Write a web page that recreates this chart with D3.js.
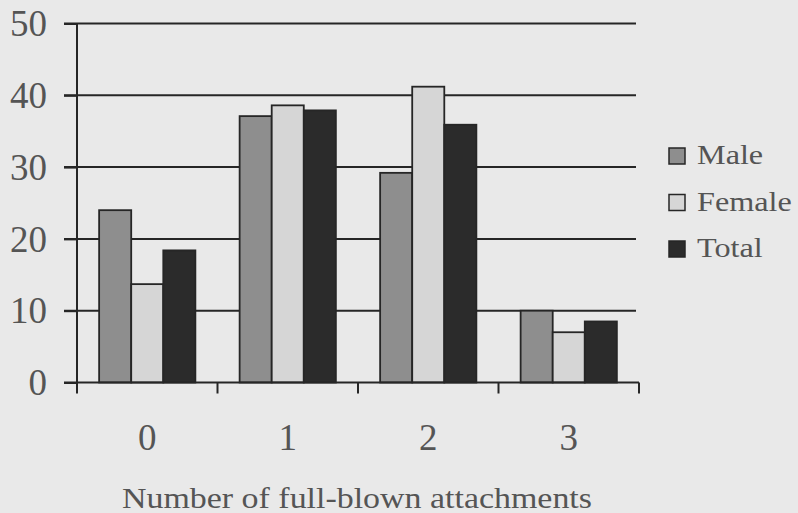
<!DOCTYPE html>
<html><head><meta charset="utf-8">
<script src="https://cdn.jsdelivr.net/npm/d3@7"></script>
<style>html,body{margin:0;padding:0;background:#e9e9e9;}svg{display:block;}</style>
</head><body>
<script>
const categories = ["0", "1", "2", "3"];
const seriesNames = ["Male", "Female", "Total"];
const male = [24, 37.1, 29.2, 10];
const female = [13.7, 38.6, 41.2, 7];
const total = [18.4, 37.9, 35.9, 8.5];
const yTicks = [0, 10, 20, 30, 40, 50];
const xTitle = "Number of full-blown attachments";
const colors = ["#8e8e8e", "#d6d6d6", "#2b2b2b"];

const W = 798, H = 513;
const svg = d3.select("body").append("svg").attr("width", W).attr("height", H);
svg.append("rect").attr("width", W).attr("height", H).attr("fill", "#e9e9e9");
const font = "'Liberation Serif', serif";
const ink = "#262626", txt = "#555";

const x0 = d3.scaleBand().domain(categories).range([77, 639]).paddingInner(0).paddingOuter(0);
const x1 = d3.scaleBand().domain(seriesNames).range([0, x0.bandwidth()]).paddingOuter(0.69).paddingInner(0);
const y = d3.scaleLinear().domain([0, 50]).range([382.5, 23.5]);

// gridlines
svg.append("g").selectAll("line").data(yTicks.filter(d => d > 0)).join("line")
  .attr("x1", 64).attr("x2", 636).attr("y1", d => y(d)).attr("y2", d => y(d))
  .attr("stroke", ink).attr("stroke-width", 2);

// bars
const data = categories.map((c, i) => ({c, vals: [male[i], female[i], total[i]]}));
const g = svg.append("g").selectAll("g").data(data).join("g")
  .attr("transform", d => `translate(${x0(d.c)},0)`);
g.selectAll("rect").data(d => d.vals.map((v, j) => ({k: seriesNames[j], v, j}))).join("rect")
  .attr("x", d => x1(d.k)).attr("width", x1.bandwidth())
  .attr("y", d => y(d.v)).attr("height", d => y(0) - y(d.v))
  .attr("fill", d => colors[d.j]).attr("stroke", ink).attr("stroke-width", 1.8);

// y axis
const yAx = svg.append("g").attr("transform", "translate(77,0)")
  .call(d3.axisLeft(y).tickValues(yTicks).tickSize(13).tickPadding(17));
yAx.select(".domain").remove();
yAx.append("line").attr("x1", 0).attr("x2", 0).attr("y1", y(50)).attr("y2", y(0) + 8).attr("stroke", ink).attr("stroke-width", 2);
yAx.selectAll(".tick line").attr("stroke", ink).attr("stroke-width", 2);
yAx.selectAll("text").attr("font-family", font).attr("font-size", 37).attr("fill", txt).attr("dy", "0.33em");

// x axis
const xAx = svg.append("g").attr("transform", `translate(0,${y(0)})`);
xAx.append("line").attr("x1", 64).attr("x2", 639).attr("y1", 0).attr("y2", 0).attr("stroke", ink).attr("stroke-width", 2);
const bounds = categories.map(c => x0(c)).concat([x0(categories[3]) + x0.bandwidth()]);
xAx.selectAll("line.tk").data(bounds).join("line").attr("class", "tk")
  .attr("x1", d => d).attr("x2", d => d).attr("y1", 0).attr("y2", 11)
  .attr("stroke", ink).attr("stroke-width", 2);
xAx.selectAll("text").data(categories).join("text")
  .attr("x", d => x0(d) + x0.bandwidth() / 2).attr("y", 450 - y(0))
  .attr("text-anchor", "middle").attr("font-family", font).attr("font-size", 37).attr("fill", txt).text(d => d);

svg.append("text").attr("x", 357).attr("y", 508).attr("text-anchor", "middle")
  .attr("font-family", font).attr("font-size", 30).attr("fill", txt)
  .attr("textLength", 470).attr("lengthAdjust", "spacingAndGlyphs").text(xTitle);

// legend
const leg = svg.append("g").selectAll("g").data(seriesNames).join("g")
  .attr("transform", (d, i) => `translate(669,${164 + i * 46.5})`);
leg.append("rect").attr("y", -16).attr("width", 16).attr("height", 16).attr("fill", (d, i) => colors[i])
  .attr("stroke", ink).attr("stroke-width", 1.5);
leg.append("text").attr("x", 28).attr("y", 0).attr("font-family", font).attr("font-size", 28)
  .attr("fill", txt).text(d => d)
  .each(function() { const L = this.getComputedTextLength(); d3.select(this).attr("textLength", L * 1.15).attr("lengthAdjust", "spacingAndGlyphs"); });
</script>
</body></html>
